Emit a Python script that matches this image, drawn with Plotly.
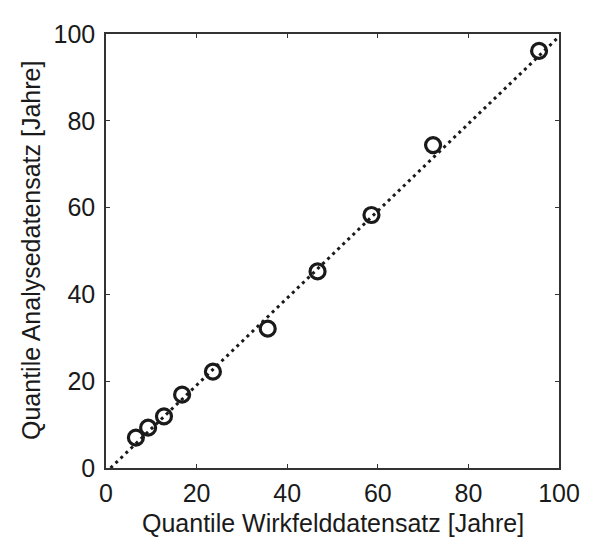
import plotly.graph_objects as go

x_q = [6.6, 9.3, 12.8, 16.8, 23.6, 35.7, 46.7, 58.6, 72.2, 95.6]
y_q = [7.0, 9.3, 11.9, 16.9, 22.2, 32.1, 45.3, 58.3, 74.4, 96.1]
ref_x = [1, 100]
ref_y = [0, 99.4]
ticks = [0, 20, 40, 60, 80, 100]
x_title = "Quantile Wirkfelddatensatz [Jahre]"
y_title = "Quantile Analysedatensatz [Jahre]"

FONT = "Liberation Sans"
FS = 25

fig = go.Figure()
fig.add_trace(go.Scatter(x=ref_x, y=ref_y, mode="lines",
                         line=dict(color="#1a1a1a", width=3, dash="3px,4px"),
                         showlegend=False))
fig.add_trace(go.Scatter(x=x_q, y=y_q, mode="markers",
                         marker=dict(symbol="circle-open", size=15, color="#1a1a1a",
                                     line=dict(width=3.2, color="#1a1a1a")),
                         showlegend=False))

axis_common = dict(range=[0, 100], tickvals=ticks, ticks="inside", ticklen=4,
                   tickcolor="#333", showline=True, linecolor="#333", linewidth=1.5,
                   mirror="ticks", showgrid=False, zeroline=False,
                   tickfont=dict(family=FONT, size=FS, color="#1a1a1a"))

# page body has an 8px default margin, so the figure is sized to fit the window
fig.update_layout(
    width=584, height=530,
    margin=dict(l=98, r=32, t=15, b=70),
    plot_bgcolor="white", paper_bgcolor="white",
    font=dict(family=FONT, size=FS, color="#1a1a1a"),
    xaxis=dict(ticklabelstandoff=2, **axis_common),
    yaxis=dict(ticklabelstandoff=4, **axis_common),
)

fig.add_annotation(text=x_title, xref="paper", yref="paper", x=0.5, y=0,
                   xanchor="center", yanchor="top", yshift=-39, showarrow=False,
                   font=dict(family=FONT, size=FS, color="#1a1a1a"))
fig.add_annotation(text=y_title, xref="paper", yref="paper", x=0, y=0.5,
                   xanchor="center", yanchor="middle", xshift=-75, textangle=-90,
                   showarrow=False,
                   font=dict(family=FONT, size=FS, color="#1a1a1a"))

fig.write_html("out.html")
